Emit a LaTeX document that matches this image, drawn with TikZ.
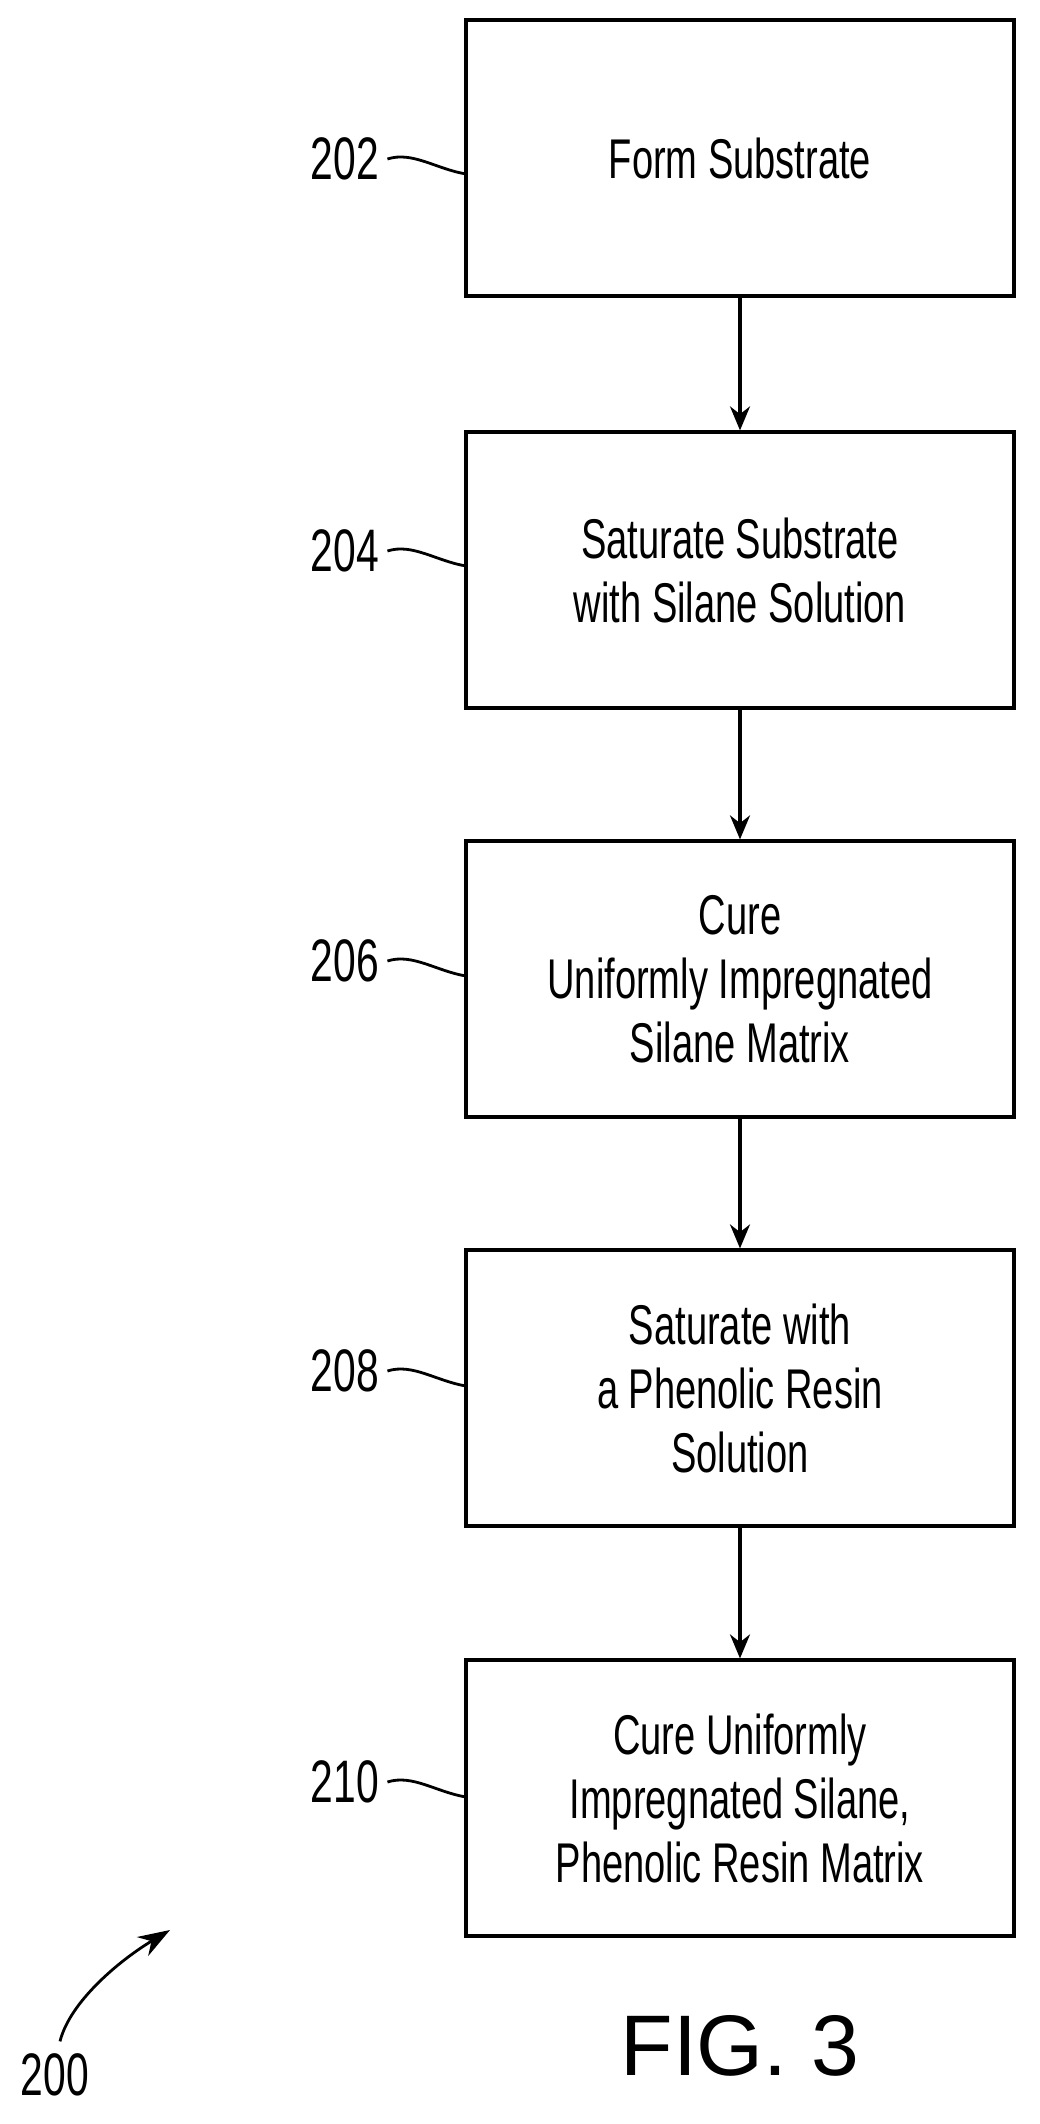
\documentclass[tikz,border=0pt]{standalone}
\usepackage{fontspec}
\setmainfont{Liberation Sans}
\newfontfamily\narrowf[FakeStretch=0.68]{Liberation Sans}
\usetikzlibrary{arrows.meta}
\begin{document}
\begin{tikzpicture}[x=0.5pt,y=-0.5pt,
  stepbox/.style={draw,line width=1.6pt,minimum width=274pt,minimum height=138pt,align=center,font=\narrowf\fontsize{28}{32}\selectfont,inner sep=0pt},
  reflabel/.style={font=\narrowf\fontsize{30}{32}\selectfont,inner sep=0pt},
  flow/.style={line width=1.6pt,-{Stealth[length=12pt,width=10pt]}},
  lead/.style={line width=1.4pt}]
\useasboundingbox (0,0) rectangle (1039,2124);
\node[stepbox] (b1) at (740,158) {Form Substrate};
\node[stepbox] (b2) at (740,570) {Saturate Substrate\\with Silane Solution};
\node[stepbox] (b3) at (740,979) {Cure\\Uniformly Impregnated\\Silane Matrix};
\node[stepbox] (b4) at (740,1388) {Saturate with\\a Phenolic Resin\\Solution};
\node[stepbox] (b5) at (740,1798) {Cure Uniformly\\Impregnated Silane,\\Phenolic Resin Matrix};
\foreach \a/\b in {b1/b2,b2/b3,b3/b4,b4/b5} \draw[flow] (\a.south) -- (\b.north);
\foreach \n/\l/\y in {b1/202/159,b2/204/551,b3/206/961,b4/208/1371,b5/210/1782}{
  \node[reflabel] (l\n) at (345,\y) {\l};
  \coordinate (e\n) at (466,\y+15);
  \draw[lead] (l\n.east) ++(8,0) .. controls +(25,-8) and +(-30,-5) .. (e\n);
}
\node[reflabel] (l200) at (55,2075) {200};
\coordinate (a200) at (170,1930);
\draw[line width=1.4pt,-{Stealth[length=16pt,width=11pt]}] (l200.north) ++(5,-12) .. controls +(10,-40) and +(-50,30) .. (a200);
\node[font=\fontsize{43}{46}\selectfont,inner sep=0pt] (fig) at (740,2046) {FIG. 3};
\end{tikzpicture}
\end{document}
